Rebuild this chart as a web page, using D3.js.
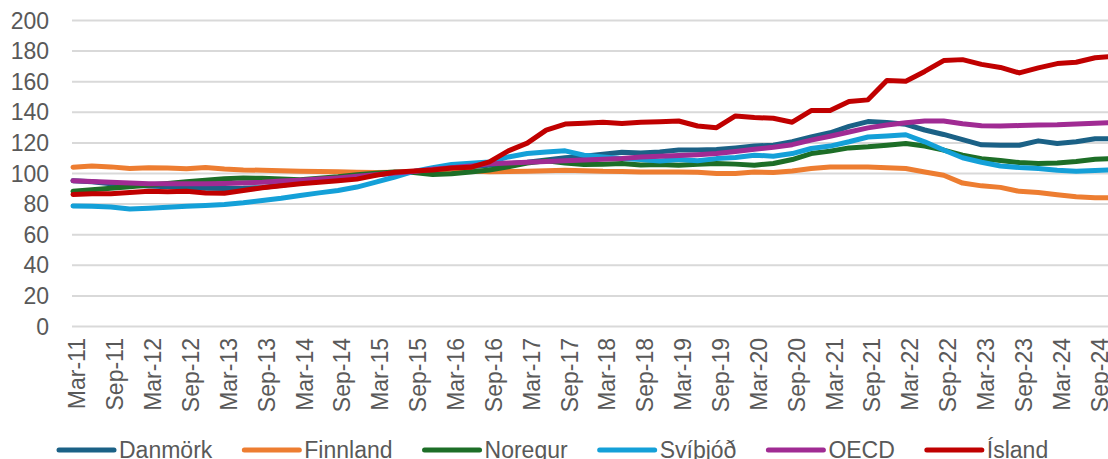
<!DOCTYPE html>
<html>
<head>
<meta charset="utf-8">
<script src="https://cdn.jsdelivr.net/npm/d3@7"></script>
<style>
  body { margin: 0; background: #fff; }
  svg { display: block; font-family: "Liberation Sans", Arial, sans-serif; }
  .axis text { fill: #595959; font-size: 23px; }
  .axis .domain { display: none; }
  .line { fill: none; stroke-width: 5px; stroke-linejoin: round; stroke-linecap: round; }
</style>
</head>
<body>
<svg width="1108" height="459"></svg>
<script>
var quarters = [
  "Mar-11","Jun-11","Sep-11","Dec-11","Mar-12","Jun-12","Sep-12","Dec-12",
  "Mar-13","Jun-13","Sep-13","Dec-13","Mar-14","Jun-14","Sep-14","Dec-14",
  "Mar-15","Jun-15","Sep-15","Dec-15","Mar-16","Jun-16","Sep-16","Dec-16",
  "Mar-17","Jun-17","Sep-17","Dec-17","Mar-18","Jun-18","Sep-18","Dec-18",
  "Mar-19","Jun-19","Sep-19","Dec-19","Mar-20","Jun-20","Sep-20","Dec-20",
  "Mar-21","Jun-21","Sep-21","Dec-21","Mar-22","Jun-22","Sep-22","Dec-22",
  "Mar-23","Jun-23","Sep-23","Dec-23","Mar-24","Jun-24","Sep-24","Dec-24"
];

var yTicks = [0, 20, 40, 60, 80, 100, 120, 140, 160, 180, 200];

var danmork = [95, 94.3, 93, 92, 91.5, 91, 90.5, 90, 89.8, 90, 90.5, 92, 93.5, 95, 96.5, 97.5,
  99, 100, 100.5, 101.5, 103, 104, 105, 106, 107, 108.5, 110, 111, 112.3, 113.5, 113, 113.8,
  115, 115, 115.4, 116.4, 117.6, 118.2, 120.4, 123.5, 126.3, 130.5, 133.6, 133, 131.8, 128.1,
  125.2, 121.8, 118.4, 118.1, 118.1, 121, 119.3, 120.4, 122.4, 122.4];

var finnland = [103.8, 104.5, 104, 103, 103.5, 103.2, 102.8, 103.6, 102.6, 102, 101.8, 101.5, 101.2, 101, 100.8, 100.5,
  100.3, 100.5, 100.8, 101.5, 101.8, 101.3, 100.8, 100.9, 101.1, 101.5, 101.8, 101.5, 101.1, 101, 100.6, 100.7,
  100.7, 100.5, 99.6, 99.6, 100.7, 100.3, 101.3, 102.9, 103.9, 103.9, 103.9, 103.4, 102.9, 100.7,
  98.5, 93.4, 91.6, 90.6, 88, 87.3, 85.8, 84.5, 83.8, 83.8];

var noregur = [88, 89, 90, 91, 92.2, 93.2, 94.3, 95.2, 96.2, 96.7, 96.5, 96, 95.6, 96.5, 97.5, 98.8,
  99.8, 100.7, 100.3, 99, 99.5, 100.7, 102, 104, 106.5, 108, 106.5, 105.5, 105.8, 106.2, 105.3, 105.5,
  105.1, 105.7, 106.2, 105.8, 105.1, 106.2, 108.8, 112.7, 114.3, 116.4, 117.1, 118.2, 119.3, 117.6,
  115, 111.6, 109.4, 108.2, 106.8, 106.2, 106.6, 107.5, 109, 109.4];

var svithjod = [78.5, 78.2, 77.8, 76.5, 77, 77.6, 78.2, 78.8, 79.4, 80.5, 82, 83.5, 85.3, 87, 88.6, 90.8,
  94, 97.4, 101, 103.5, 105.5, 106.3, 107.2, 110.5, 112.7, 113.8, 114.5, 111.6, 110.5, 109.5, 108.8, 107.9,
  108.8, 108, 109.4, 110.1, 111.6, 111, 112.7, 116, 117.6, 120.4, 123.5, 124.2, 125, 120.4,
  115, 110, 107, 104.6, 103.6, 102.9, 101.8, 101.1, 101.6, 102.2];

var oecd = [95, 94.5, 94, 93.5, 93, 93, 93, 93, 93.2, 93.5, 94, 94.8, 95.3, 96, 96.8, 97.8,
  98.8, 100, 101, 102.5, 103.5, 104.5, 106, 106.5, 107, 107.5, 108, 108.5, 109, 109.5, 110.5, 111,
  111.5, 112, 112.7, 114, 115.5, 116.8, 118.5, 121.5, 124, 126.8, 129.5, 131.4, 132.9, 134,
  134, 132.2, 130.9, 130.7, 131, 131.4, 131.5, 132, 132.5, 133];

var island = [86, 86.5, 86.5, 87.3, 88, 87.7, 88, 87, 86.8, 88.5, 90.4, 91.6, 93, 94, 95, 96,
  98.5, 100.5, 101.3, 102, 103.3, 103.7, 107.3, 114.5, 119.5, 128, 132, 132.5, 133.2, 132.3, 133.2, 133.5,
  134, 130.7, 129.6, 137.3, 136.2, 135.8, 133.2, 140.8, 140.8, 146.7, 147.8, 160.5, 160, 166.4,
  173.5, 174.1, 171, 169, 165.4, 168.7, 171.5, 172.4, 175.3, 176.3];

var seriesNames = ["Danmörk", "Finnland", "Noregur", "Svíþjóð", "OECD", "Ísland"];
var seriesValues = [danmork, finnland, noregur, svithjod, oecd, island];
var seriesColors = ["#1B6186", "#ED7D31", "#1D6E27", "#14A0D8", "#A02B93", "#C00000"];

var svg = d3.select("svg"),
    width = +svg.attr("width"),
    plot = {left: 72, right: 1114, top: 20, bottom: 326};

var x = d3.scalePoint().domain(quarters).range([73, 1114]);
var y = d3.scaleLinear().domain([0, 200]).range([plot.bottom, plot.top]);

// gridlines + y labels
var yAxis = svg.append("g")
    .attr("class", "axis")
    .attr("transform", "translate(" + plot.left + ",0)")
    .call(d3.axisLeft(y).tickValues(yTicks).tickSize(-(plot.right - plot.left)).tickPadding(23));
yAxis.selectAll(".tick line").attr("stroke", "#d9d9d9").attr("stroke-width", 2);
yAxis.selectAll(".tick text").attr("dy", "0.35em");

// x labels, only Mar and Sep
var xAxis = svg.append("g")
    .attr("class", "axis")
    .attr("transform", "translate(0," + (plot.bottom + 12) + ")")
    .call(d3.axisBottom(x).tickValues(quarters.filter(function(q) { return /^(Mar|Sep)/.test(q); })).tickSize(0));
xAxis.selectAll(".tick text")
    .attr("transform", "rotate(-90)")
    .attr("text-anchor", "end")
    .attr("x", 0)
    .attr("y", 0)
    .attr("dy", "0.52em");

var line = d3.line()
    .x(function(d, i) { return x(quarters[i]); })
    .y(function(d) { return y(d); });

svg.selectAll(".line")
    .data(seriesValues)
    .enter().append("path")
      .attr("class", "line")
      .attr("d", function(d) { return line(d); })
      .style("stroke", function(d, i) { return seriesColors[i]; });

// legend
var legend = svg.append("g").attr("transform", "translate(0,450)");
var lx = 59;
seriesNames.forEach(function(name, i) {
  legend.append("line")
      .attr("x1", lx).attr("x2", lx + 55)
      .attr("y1", 0).attr("y2", 0)
      .style("stroke", seriesColors[i])
      .style("stroke-width", 5)
      .style("stroke-linecap", "round");
  var t = legend.append("text")
      .attr("x", lx + 60)
      .attr("y", 0)
      .attr("dy", "0.35em")
      .style("fill", "#595959")
      .style("font-size", "23px")
      .text(name);
  lx += 60 + t.node().getComputedTextLength() + 32;
});
</script>
</body>
</html>
